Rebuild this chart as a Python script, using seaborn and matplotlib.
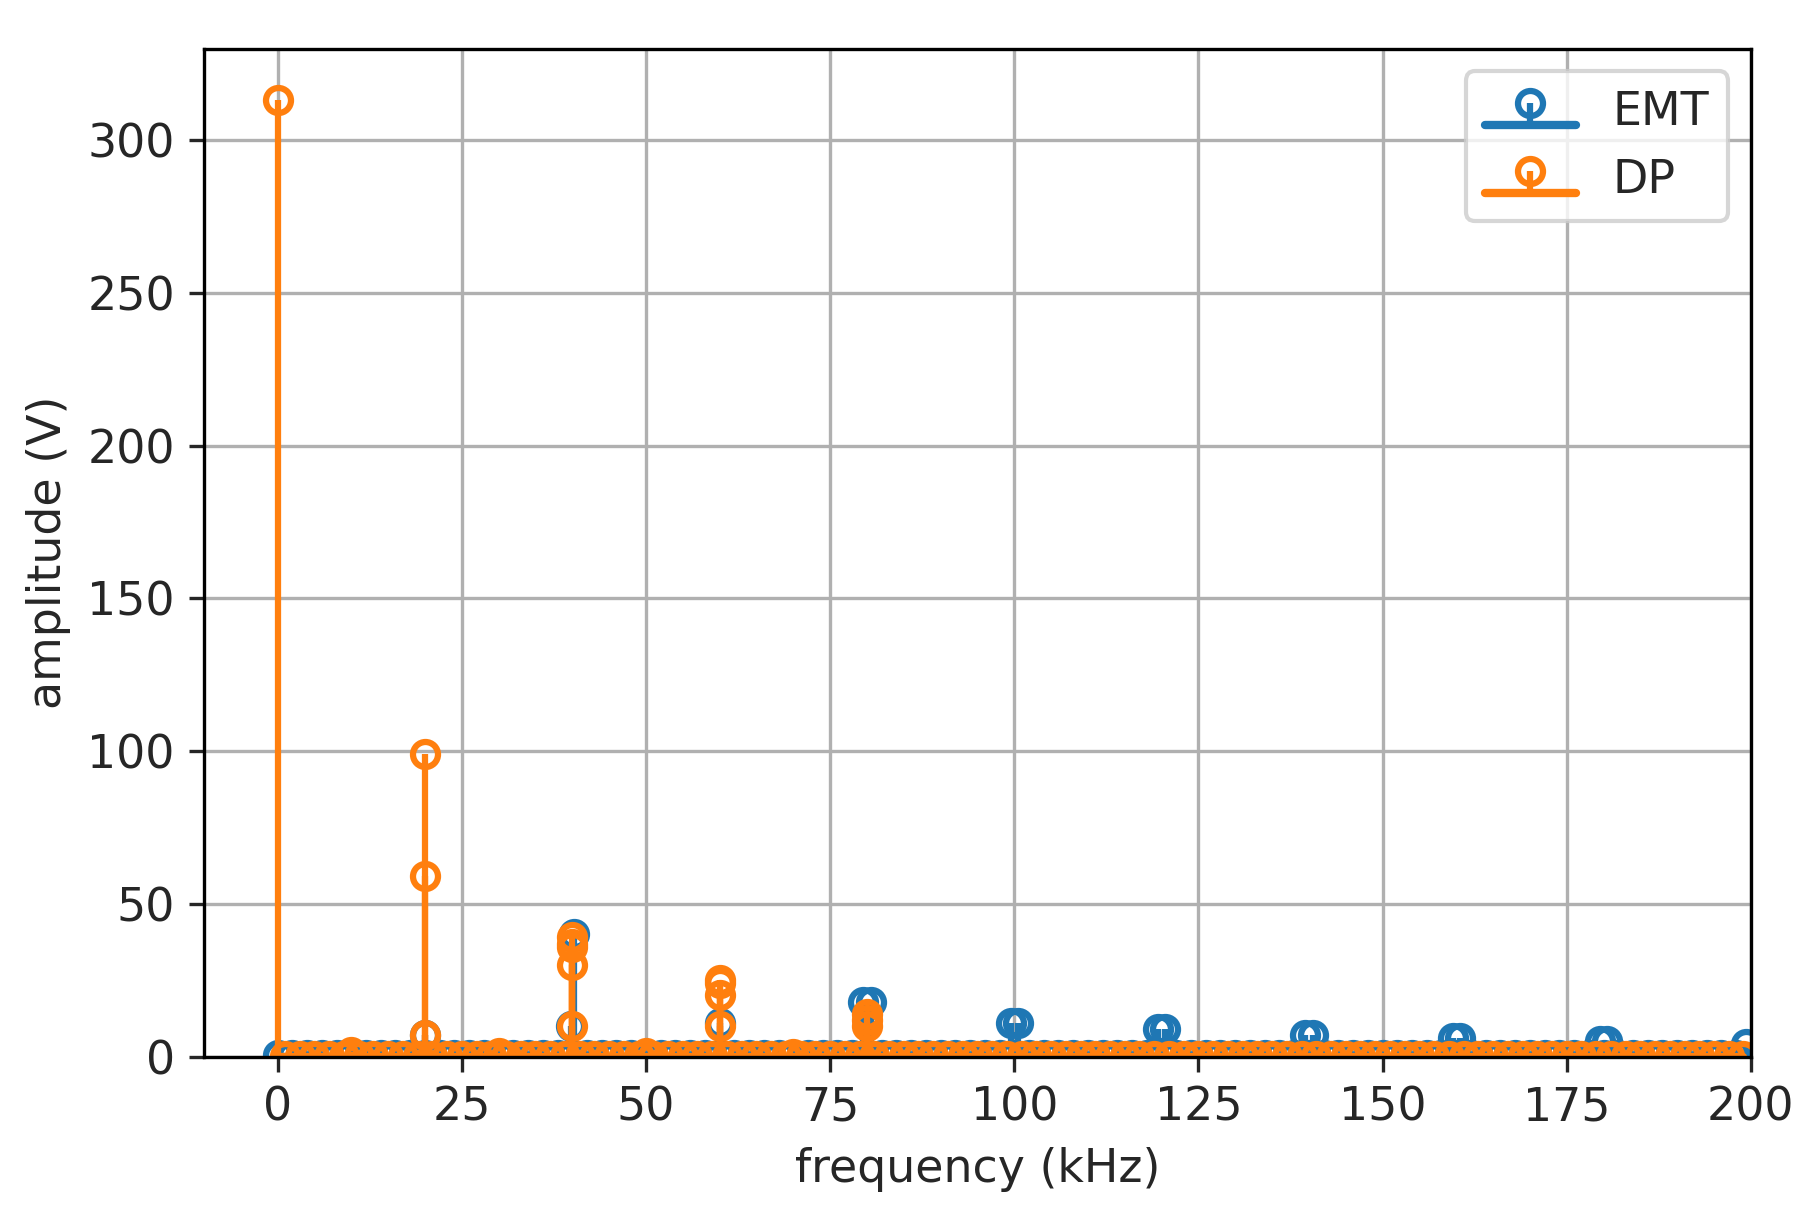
import numpy as np
import matplotlib
matplotlib.use("Agg")
import matplotlib.pyplot as plt
import seaborn as sns

sns.set_style("white")
plt.rcParams['font.family'] = ['DejaVu Sans']

# EMT spectrum: low-level bins plus harmonic sidebands
emt_base_freq = list(range(0, 200, 2))
emt_base_amp = [0.6] * len(emt_base_freq)
emt_peak_freq = [20, 39.8, 40.2, 60, 79.5, 80.5, 99.5, 100.5, 119.5, 120.5, 139.5, 140.5, 159.5, 160.5, 179.5, 180.5, 199.3]
emt_peak_amp = [7, 10, 40, 11, 18, 18, 11, 11, 9, 9, 7, 7, 6, 6, 5, 5, 4]

# DP spectrum
dp_base_freq = list(range(1, 200, 2))
dp_base_amp = [0.3] * len(dp_base_freq)
dp_peak_freq = [0, 20, 20, 20, 40, 40, 40, 40, 40, 60, 60, 60, 60, 80, 80, 80, 10, 30, 50, 70]
dp_peak_amp = [313, 99, 59, 7, 39, 37, 36, 30, 10, 25, 24, 20, 10, 14, 12, 10, 1.5, 1.2, 1.0, 0.8]

emt_f = np.array(emt_base_freq + emt_peak_freq)
emt_a = np.array(emt_base_amp + emt_peak_amp)
dp_f = np.array(dp_base_freq + dp_peak_freq)
dp_a = np.array(dp_base_amp + dp_peak_amp)

blue, orange = sns.color_palette("tab10")[0], sns.color_palette("tab10")[1]

fig = plt.figure(figsize=(1805/300, 1213/300), dpi=300)
ax = fig.add_axes([0.113, 0.129, 0.857, 0.831])

for f, a, c, lab in [(emt_f, emt_a, blue, "EMT"), (dp_f, dp_a, orange, "DP")]:
    ml, sl, bl = ax.stem(f, a, label=lab)
    plt.setp(ml, color=c, markerfacecolor='none', markersize=6, markeredgewidth=1.5)
    plt.setp(sl, color=c, linewidth=1.5)
    plt.setp(bl, color=c, linewidth=2)

ax.set_xlim(-10, 200)
ax.set_ylim(0, 330)
ax.set_xticks([0, 25, 50, 75, 100, 125, 150, 175, 200])
ax.set_yticks([0, 50, 100, 150, 200, 250, 300])
ax.grid(True, color='#b0b0b0', linewidth=0.8)
ax.set_axisbelow(True)
for s in ax.spines.values():
    s.set_color('black'); s.set_linewidth(0.8)
ax.tick_params(labelsize=11, length=3.5, width=0.8, direction='out', bottom=True, left=True)
ax.set_xlabel("frequency (kHz)", fontsize=11)
ax.set_ylabel("amplitude (V)", fontsize=11)
ax.legend(loc='upper right', fontsize=11)
fig.savefig("out.png", dpi=300)
